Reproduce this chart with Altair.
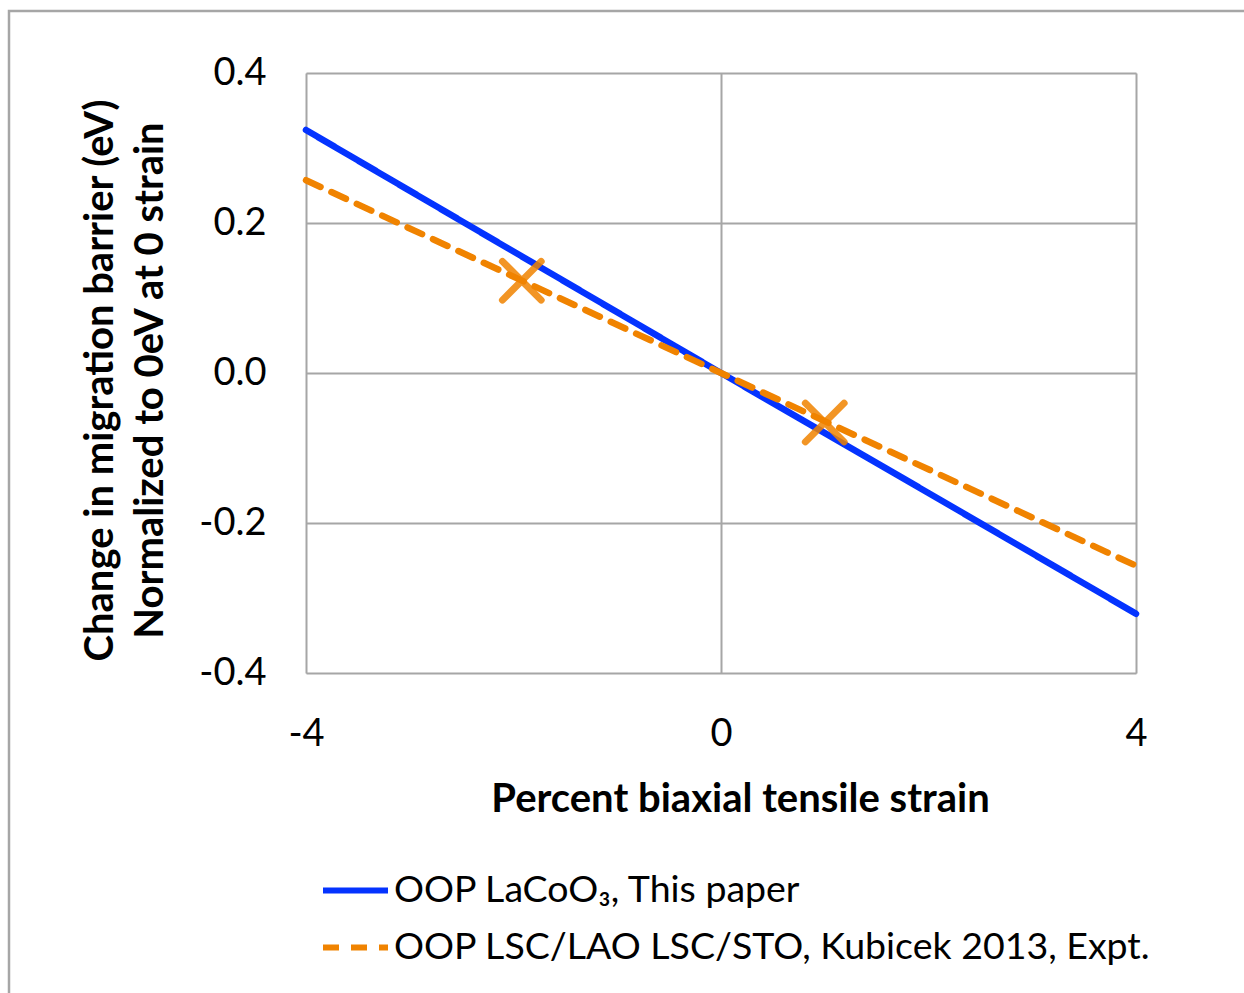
import altair as alt
import pandas as pd

# ---- data ----
blue_label = "OOP LaCoO₃, This paper"
orange_label = "OOP LSC/LAO LSC/STO, Kubicek 2013, Expt."

blue_x = [-4, -2, 0, 2, 4]
blue_y = [0.324, 0.162, 0.0, -0.160, -0.321]

orange_x = [-4, 0, 4]
orange_y = [0.257, 0.0, -0.257]

marker_x = [-1.92, 1.0]
marker_y = [0.123, -0.066]

x_ticks = [-4, 0, 4]
y_ticks = [-0.4, -0.2, 0.0, 0.2, 0.4]

BLUE = "#0433FF"
ORANGE = "#F08300"
GRID = "#A6A6A6"
FONT = "Lato"

lines = pd.DataFrame(
    {"x": blue_x + orange_x,
     "y": blue_y + orange_y,
     "series": [blue_label] * len(blue_x) + [orange_label] * len(orange_x)}
)
markers = pd.DataFrame({"x": marker_x, "y": marker_y})

W, H = 830, 600

xscale = alt.Scale(domain=[-4, 4], nice=False, zero=False)
yscale = alt.Scale(domain=[-0.4, 0.4], nice=False, zero=False)

x_axis = alt.Axis(
    values=x_ticks, grid=True, ticks=False, domain=False, labelFlush=False,
    labelExpr="datum.value < 0 ? '-' + format(-datum.value, 'd') : format(datum.value, 'd')",
    labelPadding=42, labelFontSize=38, labelColor="black", labelFont=FONT,
    title="Percent biaxial tensile strain", titleFontSize=40, titleFont=FONT,
    titleFontWeight="bold", titleColor="black", titlePadding=26, titleX=434,
    gridColor=GRID, gridWidth=2,
)
legend_cfg = dict(
    title=None, orient="none", legendX=14, legendY=782,
    symbolType="stroke", symbolSize=4225, symbolStrokeWidth=6,
    labelFontSize=37.5, labelFont=FONT, labelColor="black",
    labelOffset=3, rowPadding=3, labelLimit=1000,
)
y_axis = alt.Axis(
    values=y_ticks, grid=True, ticks=False, domain=False,
    labelExpr="datum.value < 0 ? '-' + format(-datum.value, '.1f') : format(datum.value, '.1f')",
    labelPadding=40, labelFontSize=38, labelColor="black", labelFont=FONT,
    title=["Change in migration barrier (eV)", "Normalized to 0eV at 0 strain"],
    titleFontSize=40, titleFont=FONT, titleFontWeight="bold", titleColor="black",
    titlePadding=28, titleLineHeight=50, titleY=307, gridColor=GRID, gridWidth=2,
)

line_layer = alt.Chart(lines).mark_line(strokeWidth=6.5, strokeCap="round").encode(
    x=alt.X("x:Q", scale=xscale, axis=x_axis),
    y=alt.Y("y:Q", scale=yscale, axis=y_axis),
    color=alt.Color(
        "series:N",
        scale=alt.Scale(domain=[blue_label, orange_label], range=[BLUE, ORANGE]),
        legend=alt.Legend(**legend_cfg),
    ),
    strokeDash=alt.StrokeDash(
        "series:N",
        scale=alt.Scale(domain=[blue_label, orange_label], range=[[1, 0], [16, 12]]),
        legend=alt.Legend(**legend_cfg),
    ),
    order=alt.Order("x:Q"),
)

marker_layer = alt.Chart(markers).mark_point(
    shape="M-1,-1L1,1M-1,1L1,-1", filled=False, size=1500,
    strokeWidth=7, color=ORANGE, opacity=0.85, strokeCap="round",
).encode(
    x=alt.X("x:Q", scale=xscale),
    y=alt.Y("y:Q", scale=yscale),
)

frame = alt.Chart(pd.DataFrame({"a": [0]})).mark_rect(
    fill=None, stroke=GRID, strokeWidth=2.5
).encode(
    x=alt.value(-297), x2=alt.value(1000), y=alt.value(-62), y2=alt.value(1000)
)

chart = alt.layer(frame, line_layer, marker_layer).properties(
    width=W, height=H,
    autosize=alt.AutoSizeParams(type="none"),
    padding={"left": 306, "top": 73, "right": 1244 - 306 - W, "bottom": 993 - 73 - H},
).configure_view(
    stroke=GRID, strokeWidth=2.5
).configure(background="white")

chart.save("out.html", embed_options={"renderer": "svg", "actions": False})
